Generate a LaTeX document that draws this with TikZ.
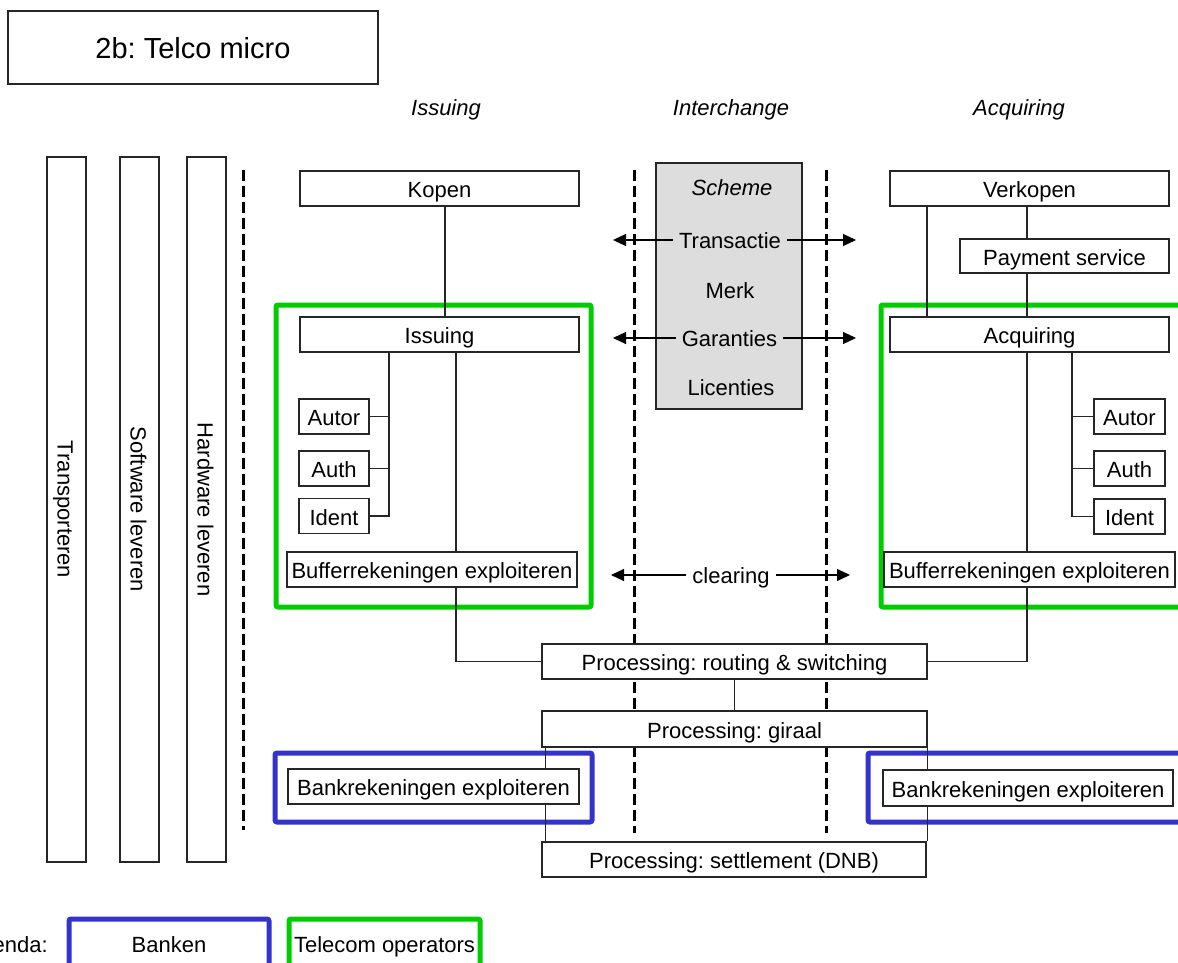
\documentclass[tikz,border=0pt]{standalone}
\usepackage{fontspec}
\setmainfont{Liberation Sans}
\usetikzlibrary{arrows.meta}
\pgfdeclarelayer{frames}
\pgfdeclarelayer{wires}
\pgfsetlayers{frames,wires,main}
\definecolor{telco}{RGB}{0,204,0}
\definecolor{bank}{RGB}{51,51,204}
\definecolor{schemefill}{RGB}{221,221,221}
\frenchspacing
\begin{document}
\begin{tikzpicture}[x=1pt,y=-1pt,
  every node/.style={font=\fontsize{22}{26}\selectfont, inner sep=0pt, text height=19pt, text depth=1pt},
  cbox/.style={draw=black!85, line width=1.2pt, fill=white, minimum height=35},
  zoneframe/.style={line width=5pt, rounded corners=2pt},
  wireline/.style={draw=black!85, line width=1.2pt},
  dividerline/.style={line width=3pt, dash pattern=on 11pt off 5pt},
  flowarrow/.style={line width=1.2pt, -{Triangle[length=13pt,width=12pt]}},
  arrowtext/.style={inner xsep=6pt, text height=17pt, text depth=1pt},
  colhead/.style={font=\fontsize{22}{26}\selectfont\itshape}
]
\useasboundingbox (0,0) rectangle (1178,963);

% title
\node[cbox, minimum width=370, minimum height=73, font=\fontsize{29}{34}\selectfont,
      text height=24pt, text depth=1pt] (title) at (193,47.5) {2b: Telco micro};

% column headings
\node[colhead] (hIss) at (446,107) {Issuing};
\node[colhead] (hInt) at (731,107) {Interchange};
\node[colhead] (hAcq) at (1019,107) {Acquiring};

% supporting activities
\node[cbox, rotate=-90, minimum width=705, minimum height=39] (bTrans) at (66.5,509.5) {Transporteren};
\node[cbox, rotate=-90, minimum width=705, minimum height=39] (bSoft) at (139.5,509.5) {Software leveren};
\node[cbox, rotate=-90, minimum width=705, minimum height=39] (bHard) at (206.5,509.5) {Hardware leveren};

% issuing side
\node[cbox, minimum width=279] (kopen) at (439.5,188.5) {Kopen};
\node[cbox, minimum width=279] (issuing) at (439.5,334.5) {Issuing};
\node[cbox, minimum width=70] (autorL) at (334,416.5) {Autor};
\node[cbox, minimum width=70] (authL) at (334,468.5) {Auth};
\node[cbox, minimum width=70] (identL) at (334,516) {Ident};
\node[cbox, minimum width=290] (bufL) at (432,569.5) {Bufferrekeningen exploiteren};
\node[cbox, minimum width=291] (bankL) at (433.5,786.5) {Bankrekeningen exploiteren};

% acquiring side
\node[cbox, minimum width=279] (verkopen) at (1029.5,188.5) {Verkopen};
\node[cbox, minimum width=209, minimum height=34] (payment) at (1064.5,256) {Payment service};
\node[cbox, minimum width=279] (acquiring) at (1029.5,334.5) {Acquiring};
\node[cbox, minimum width=71] (autorR) at (1129.5,416.5) {Autor};
\node[cbox, minimum width=71] (authR) at (1129.5,468.5) {Auth};
\node[cbox, minimum width=71] (identR) at (1129.5,516.5) {Ident};
\node[cbox, minimum width=291] (bufR) at (1029.5,569.5) {Bufferrekeningen exploiteren};
\node[cbox, minimum width=290, minimum height=36] (bankR) at (1028,788) {Bankrekeningen exploiteren};

% processing chain
\node[cbox, minimum width=385] (routing) at (734.5,661.5) {Processing: routing \& switching};
\node[cbox, minimum width=385, minimum height=36] (giraal) at (734.5,729) {Processing: giraal};
\node[cbox, minimum width=384] (settle) at (734,859.5) {Processing: settlement (DNB)};

% scheme
\node[cbox, fill=schemefill, minimum width=146, minimum height=246] (scheme) at (729,286) {};
\node[colhead] (schemeT) at (732,186) {Scheme};
\node[arrowtext] (trans) at (730,240) {Transactie};
\node (merk) at (730,289) {Merk};
\node[arrowtext] (gar) at (729.5,338) {Garanties};
\node (lic) at (731,386) {Licenties};
\node[arrowtext] (clear) at (731,575) {clearing};

% arrow ends
\coordinate (transW) at (613,240);
\coordinate (transE) at (856,240);
\coordinate (garW) at (613,338);
\coordinate (garE) at (856,338);
\coordinate (clearW) at (611,575);
\coordinate (clearE) at (850,575);
\draw[flowarrow] (trans.west) -- (transW);
\draw[flowarrow] (trans.east) -- (transE);
\draw[flowarrow] (gar.west) -- (garW);
\draw[flowarrow] (gar.east) -- (garE);
\draw[flowarrow] (clear.west) -- (clearW);
\draw[flowarrow] (clear.east) -- (clearE);

% legend
\node[anchor=east] (legT) at (48,943) {Legenda:};
\node (legBank) at (169,943) {Banken};
\node (legTelco) at (384.5,943) {Telecom operators};

% role frames and column dividers
\begin{pgfonlayer}{frames}
\draw[zoneframe, telco] (276,305) rectangle (591,607);
\draw[zoneframe, telco] (881,305) rectangle (1195,607);
\draw[zoneframe, bank] (275,753) rectangle (592,822);
\draw[zoneframe, bank] (868,753) rectangle (1195,822);
\draw[zoneframe, bank] (69,919) rectangle (269,985);
\draw[zoneframe, telco] (289,919) rectangle (480,985);
\draw[dividerline] (243,170) -- (243,830);
\draw[dividerline] (634,170) -- (634,833);
\draw[dividerline] (826,170) -- (826,833);
\end{pgfonlayer}

% connectors
\begin{pgfonlayer}{wires}
\draw[wireline] ([xshift=5.5]kopen.south) -- ([xshift=5.5]issuing.north);
\coordinate (spL) at ([xshift=-50.5]issuing.south);
\draw[wireline] (spL) |- (identL.east);
\draw[wireline] (autorL.east) -- (autorL.east -| spL);
\draw[wireline] (authL.east) -- (authL.east -| spL);
\coordinate (trL) at ([xshift=16.5]issuing.south);
\draw[wireline] (trL) -- (trL |- bufL.north);
\draw[wireline] (trL |- bufL.south) |- (routing.west);
\draw[wireline] (routing.south) -- (giraal.north);
\draw[wireline] ([xshift=4]giraal.south west) -- ([xshift=4]giraal.south west |- settle.north);
\draw[wireline] (giraal.south east) -- (giraal.south east |- settle.north);
\coordinate (trR) at ([xshift=-2.5]verkopen.south);
\draw[wireline] (trR) -- (trR |- payment.north);
\draw[wireline] (trR |- payment.south) -- (trR |- acquiring.north);
\draw[wireline] (trR |- acquiring.south) -- (trR |- bufR.north);
\draw[wireline] (trR |- bufR.south) |- (routing.east);
\draw[wireline] ([xshift=-102.5]verkopen.south) -- ([xshift=-102.5]acquiring.north);
\coordinate (spR) at ([xshift=42.5]acquiring.south);
\draw[wireline] (spR) |- (identR.west);
\draw[wireline] (autorR.west) -- (autorR.west -| spR);
\draw[wireline] (authR.west) -- (authR.west -| spR);
\end{pgfonlayer}
\end{tikzpicture}
\end{document}
